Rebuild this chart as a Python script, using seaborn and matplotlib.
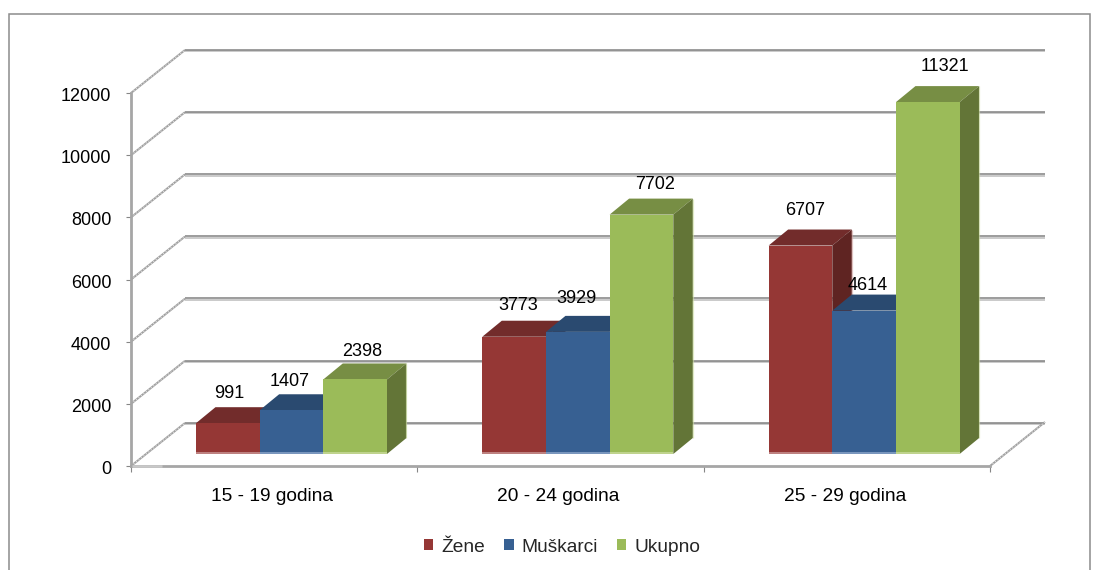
import pandas as pd
import matplotlib.pyplot as plt
import seaborn as sns
from matplotlib.lines import Line2D
from matplotlib.patches import Polygon, Rectangle
from matplotlib.transforms import Affine2D, IdentityTransform

# Chart data
age_groups = ['15 - 19 godina', '20 - 24 godina', '25 - 29 godina']
zene = [991, 3773, 6707]
muskarci = [1407, 3929, 4614]
ukupno = [2398, 7702, 11321]
series_names = ['Žene', 'Muškarci', 'Ukupno']
y_ticks = [0, 2000, 4000, 6000, 8000, 10000, 12000]

# Colours per series: front, top, side, bottom highlight
front_colors = ['#953735', '#376092', '#9BBB59']
top_colors = ['#722C2B', '#2A4A70', '#778E44']
side_colors = ['#5F2422', '#233D5E', '#637537']
base_colors = ['#CB9A99', '#8FA8CC', '#CBDC9F']

# Label nudges in pixels, same order as the series
label_dx = [[1, 4, 5], [-2, -1, 4], [7, 14, 17]]
label_dy = [[14, 15, 19], [13, 17, 9], [12, 14, 20]]

WALL_DX, WALL_DY = 54, 43      # depth of the chart box
BAR_DX, BAR_DY = 17.3, 12      # where the bars stand on the floor
DEPTH_DX, DEPTH_DY = 19.5, 16  # depth of one bar
W, H = 1097, 570
NUM_SIZE = 13
TEXT_SIZE = 13.8

df = pd.DataFrame({
    'group': age_groups * 3,
    'series': [s for s in series_names for _ in age_groups],
    'value': zene + muskarci + ukupno,
})

sns.set_style('white')
plt.rcParams['font.family'] = ['Liberation Sans', 'DejaVu Sans']

fig = plt.figure(figsize=(W / 100, H / 100), dpi=100)
ax = fig.add_axes([131 / W, (H - 466) / H, (990 - 131) / W, 373 / H])
ax.patch.set_alpha(0)

sns.barplot(data=df, x='group', y='value', hue='series', hue_order=series_names,
            palette=front_colors, width=0.667, gap=0, linewidth=0, saturation=1, ax=ax)
ax.set_xlim(-0.5, 2.5)
ax.set_ylim(0, 12000)
ax.set_xlabel('')
ax.set_ylabel('')
sns.despine(ax=ax, top=True, right=True)


def px(x, y):
    return ax.transData.transform((x, y))


def pixel_line(xs, ys, color, lw_px, **kw):
    line = Line2D(xs, ys, color=color, lw=lw_px * 0.72, transform=IdentityTransform(),
                  solid_capstyle='butt', clip_on=False, **kw)
    fig.add_artist(line)
    return line


def slant_line(xs, ys):
    pixel_line(xs, ys, '#A0A0A0', 2.0, zorder=-2)
    pixel_line(xs, ys, '#E4E4E4', 0.9, zorder=-2, linestyle=(0, (1.5, 2)))


# Back wall and the slanted floor/side lines
for tick in y_ticks:
    x0, y0 = px(-0.5, tick)
    x1, _ = px(2.5, tick)
    pixel_line([x0 + WALL_DX, x1 + WALL_DX + 1], [y0 + WALL_DY - 1.2] * 2, '#BFBFBF', 1.6, zorder=-2)
    pixel_line([x0 + WALL_DX, x1 + WALL_DX + 1], [y0 + WALL_DY + 0.2] * 2, '#868686', 1.6, zorder=-2)
    slant_line([x0, x0 + WALL_DX], [y0, y0 + WALL_DY])
x0, y0 = px(2.5, 0)
slant_line([x0, x0 + WALL_DX + 1], [y0, y0 + WALL_DY + 1])

# Turn each seaborn bar into a box, left to right so neighbours overlap properly
bars = []
for s, container in enumerate(ax.containers):
    for g, bar in enumerate(container):
        bars.append((bar.get_x(), s, g, bar))
bars.sort(key=lambda b: b[0])

for order, (_, s, g, bar) in enumerate(bars):
    left, right = bar.get_x(), bar.get_x() + bar.get_width()
    xl, yb = px(left, 0)
    xr, yt = px(right, bar.get_height())
    xl, xr = xl + BAR_DX, xr + BAR_DX
    yb, yt = yb + BAR_DY, yt + BAR_DY
    z = 3 + order
    top = Polygon([(xl, yt), (xr, yt), (xr + DEPTH_DX, yt + DEPTH_DY), (xl + DEPTH_DX, yt + DEPTH_DY)],
                  facecolor=top_colors[s], edgecolor='none', transform=IdentityTransform(), zorder=z)
    side = Polygon([(xr, yb), (xr + DEPTH_DX, yb + DEPTH_DY), (xr + DEPTH_DX, yt + DEPTH_DY), (xr, yt)],
                   facecolor=side_colors[s], edgecolor='none', transform=IdentityTransform(), zorder=z)
    front = Rectangle((xl, yb), xr - xl, yt - yb, facecolor=front_colors[s], edgecolor='none',
                      transform=IdentityTransform(), zorder=z + 0.5)
    bar.set_visible(False)
    for p in (top, side, front):
        fig.add_artist(p)
    # pale strips along the bar's bottom and its far edge
    pixel_line([xl, xr], [yb + 0.6] * 2, base_colors[s], 1.5, zorder=z + 0.6)
    pixel_line([xr + DEPTH_DX, xr + DEPTH_DX], [yb + DEPTH_DY, yt + DEPTH_DY], base_colors[s], 1.2,
               zorder=z + 0.1, alpha=0.6)
    fig.text((xl + xr) / 2 / W + label_dx[s][g] / W, (yt + DEPTH_DY + label_dy[s][g]) / H,
             f'{int(bar.get_height())}', ha='center', va='center', color='black', fontsize=NUM_SIZE, zorder=500)

# Axes styling
ax.set_yticks(y_ticks)
ax.tick_params(axis='y', which='major', left=True, length=3.6, width=0.8, color='#868686', pad=10.5,
               labelcolor='black', labelsize=NUM_SIZE)
ax.set_xticks([-0.5, 0.5, 1.5, 2.5], minor=True)
ax.tick_params(axis='x', which='minor', bottom=True, length=4.5, width=0.8, color='#868686')
ax.tick_params(axis='x', which='major', bottom=False, pad=12.5, labelcolor='black', labelsize=TEXT_SIZE)
ax.spines['left'].set_color('#A6A6A6')
ax.spines['bottom'].set_color('#A6A6A6')
ax.spines['left'].set_linewidth(2)
ax.spines['bottom'].set_linewidth(2)

# Small shifts of the tick labels, in pixels
for label in ax.get_yticklabels():
    label.set_transform(label.get_transform() + Affine2D().translate(0, -1.5))
for label in ax.get_xticklabels():
    label.set_transform(label.get_transform() + Affine2D().translate(-2, 0))

# Lighter start of the floor line
x0, y0 = px(-0.5, 0)
pixel_line([x0 + 1, x0 + 31], [y0, y0], '#C8C8C8', 2.6, zorder=10)

# Legend
sns.move_legend(ax, 'center', bbox_to_anchor=(562 / W, (H - 547) / H), bbox_transform=fig.transFigure,
                ncol=3, frameon=False, title=None, fontsize=TEXT_SIZE, handlelength=0.5, handleheight=0.5,
                handletextpad=0.4, columnspacing=1.0, borderpad=0, borderaxespad=0)

# Outer chart frame
fig.add_artist(Rectangle((8.5, -5), 1081, H - 14 + 5, facecolor='none', edgecolor='#8C8C8C', lw=1.1,
                         transform=IdentityTransform(), zorder=-3))

fig.savefig('out.png', dpi=100)
